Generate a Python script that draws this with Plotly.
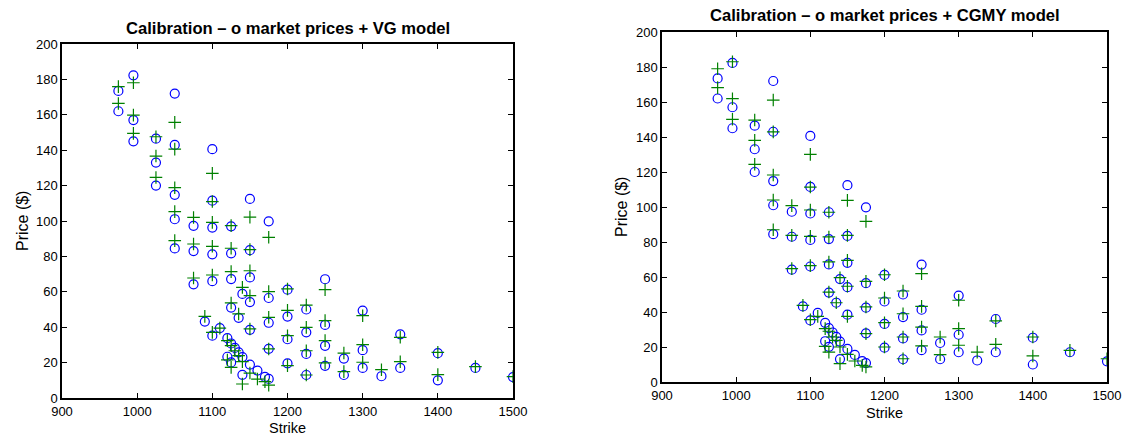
import plotly.graph_objects as go

# Market prices (circles) — shared by both panels
strikes = [975, 975,
           995, 995, 995,
           1025, 1025, 1025,
           1050, 1050, 1050, 1050, 1050,
           1075, 1075, 1075,
           1090,
           1100, 1100, 1100, 1100, 1100, 1100,
           1110,
           1120, 1120,
           1125, 1125, 1125, 1125, 1125, 1125,
           1130,
           1135, 1135,
           1140, 1140, 1140,
           1150, 1150, 1150, 1150, 1150, 1150,
           1160,
           1170,
           1175, 1175, 1175, 1175, 1175,
           1200, 1200, 1200, 1200,
           1225, 1225, 1225, 1225,
           1250, 1250, 1250, 1250,
           1275, 1275,
           1300, 1300, 1300,
           1325,
           1350, 1350,
           1400, 1400,
           1450,
           1500]

market_prices = [173.5, 162,
                 182.3, 157, 145,
                 146.5, 133, 120,
                 172, 143, 114.8, 101, 84.5,
                 97.3, 83, 64.2,
                 43.2,
                 140.6, 111.5, 96.3, 81.2, 66, 35.2,
                 39.5,
                 33.8, 23.3,
                 97, 81.7, 67.2, 51.1, 30.8, 20.1,
                 28.3,
                 45.3, 25.8,
                 58.8, 23.1, 13.1,
                 112.5, 83.5, 68.1, 54.2, 38.5, 18.9,
                 15.5,
                 11.9,
                 99.8, 56.5, 42.5, 27.8, 10.8,
                 61.2, 46, 33.2, 19.6,
                 50, 37.1, 24.9, 13,
                 67.1, 41.3, 29.5, 18.2,
                 22.3, 13,
                 49.4, 27, 17,
                 12.3,
                 36, 17,
                 25.3, 10,
                 17,
                 11.8]

vg_prices = [175.9, 166.4,
             178.1, 159.8, 149.5,
             147.6, 136.7, 124.6,
             155.7, 140.6, 118.8, 105.3, 88.9,
             102, 87, 67.8,
             46.1,
             126.9, 111, 99.2, 85.7, 69.5, 37.1,
             39.5,
             32.4, 21.5,
             97.4, 84.6, 71.4, 53.7, 29.6, 17.3,
             26.7,
             47.5, 23.9,
             62.5, 20.5, 7.9,
             102.2, 83.8, 71.9, 57.8, 39, 14.1,
             10.7,
             9.2,
             90.8, 60.1, 45.6, 27.7, 7.3,
             61.6, 49.5, 35.2, 18.3,
             52.5, 39.9, 26.7, 13,
             61.2, 43.7, 32.4, 19.8,
             25.4, 14.9,
             46.5, 30.1, 20.2,
             16,
             34.3, 20.5,
             25.8, 13.2,
             17.7,
             12.1]

cgmy_prices = [179, 168.2,
               183, 161.9, 150.1,
               149.7, 138.1, 124.4,
               161.1, 142.9, 118.3, 104, 87,
               100.8, 83.8, 64.8,
               43.8,
               130.1, 111.4, 98.3, 83.2, 66.5, 35.6,
               37.5,
               30.5, 20.4,
               97, 82.9, 68.6, 51.4, 29, 17.1,
               25.7,
               45.3, 23.8,
               59.6, 20, 10.5,
               103.8, 83.8, 69.5, 54.7, 37.5, 15.8,
               12,
               9.5,
               91.8, 57.5, 42.9, 27.6, 8.6,
               61.3, 48, 33.9, 20,
               52, 39, 25.7, 13.3,
               61.9, 43.2, 31.4, 20.6,
               25.7, 15.6,
               46.7, 30.5, 21,
               17.1,
               34.9, 21.5,
               25.7, 14.9,
               18.1,
               13.3]

titles = ["Calibration \u2013 o market prices + VG model",
          "Calibration \u2013 o market prices + CGMY model"]
x_label = "Strike"
y_label = "Price ($)"
x_ticks = [900, 1000, 1100, 1200, 1300, 1400, 1500]
y_ticks = [0, 20, 40, 60, 80, 100, 120, 140, 160, 180, 200]

W, H = 1127, 437
FONT = "Liberation Sans, Arial, Helvetica, sans-serif"
BLUE = "#0000ff"
GREEN = "#008000"

fig = go.Figure()

models = [vg_prices, cgmy_prices]
for i, model in enumerate(models):
    xa = "x" if i == 0 else "x2"
    ya = "y" if i == 0 else "y2"
    fig.add_trace(go.Scatter(
        x=strikes, y=market_prices, mode="markers", xaxis=xa, yaxis=ya,
        marker=dict(symbol="circle-open", size=9, color=BLUE,
                    line=dict(color=BLUE, width=1.2)),
        showlegend=False, hoverinfo="x+y"))
    fig.add_trace(go.Scatter(
        x=strikes, y=model, mode="markers", xaxis=xa, yaxis=ya,
        marker=dict(symbol="cross-thin-open", size=9, color=GREEN,
                    line=dict(color=GREEN, width=1.2)),
        showlegend=False, hoverinfo="x+y"))

# axes pixel boxes (left, right, top, bottom)
boxes = [(62, 513, 44, 398), (662, 1107, 32, 382)]

def axis_common():
    return dict(showline=True, linecolor="black", linewidth=1.5, mirror="ticks",
                ticks="inside", ticklen=5, tickcolor="black", tickwidth=1,
                showgrid=False, zeroline=False, automargin=False,
                tickfont=dict(family=FONT, size=13, color="black"))

layout = dict(width=W, height=H, margin=dict(l=0, r=0, t=0, b=0),
              paper_bgcolor="white", plot_bgcolor="white",
              font=dict(family=FONT, color="black"))

for i, (l, r, t, b) in enumerate(boxes):
    sx = "" if i == 0 else "2"
    xax = axis_common()
    xax.update(domain=[l / W, r / W], range=[900, 1500], tickvals=x_ticks,
               anchor="y" + sx, ticklabelstandoff=1)
    yax = axis_common()
    yax.update(domain=[1 - b / H, 1 - t / H], range=[0, 200], tickvals=y_ticks,
               anchor="x" + sx, ticklabelstandoff=0)
    layout["xaxis" + sx] = xax
    layout["yaxis" + sx] = yax

annotations = []
title_y = [28, 15]
xlabel_bottom = [437, 422]
ylabel_x = [22, 622]
for i, (l, r, t, b) in enumerate(boxes):
    annotations.append(dict(
        text="<b>" + titles[i] + "</b>", xref="paper", yref="paper",
        x=(l + r) / 2 / W, y=1 - title_y[i] / H, xanchor="center", yanchor="middle",
        showarrow=False, font=dict(family=FONT, size=16.6, color="black")))
    annotations.append(dict(
        text=x_label, xref="paper", yref="paper",
        x=(l + r) / 2 / W, y=1 - xlabel_bottom[i] / H, xanchor="center", yanchor="bottom",
        showarrow=False, borderpad=0,
        font=dict(family=FONT, size=14.5, color="black")))
    annotations.append(dict(
        text=y_label, xref="paper", yref="paper", textangle=-90,
        x=ylabel_x[i] / W, y=1 - (t + b) / 2 / H, xanchor="center", yanchor="middle",
        showarrow=False, font=dict(family=FONT, size=16, color="black")))
layout["annotations"] = annotations

fig.update_layout(**layout)
fig.write_html("out.html")
